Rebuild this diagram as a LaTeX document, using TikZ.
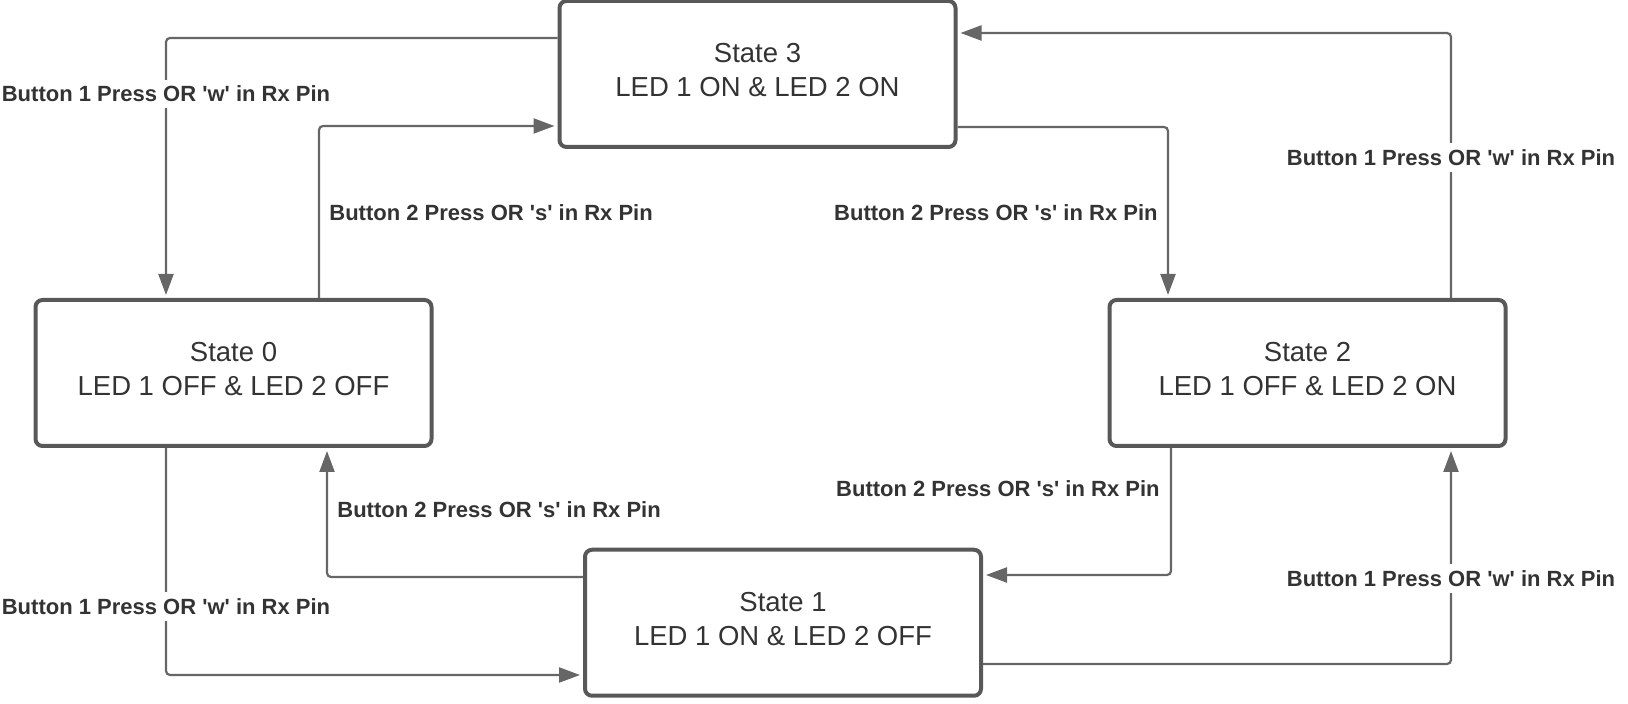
\documentclass[tikz,border=0pt]{standalone}
\usepackage{fontspec}
\setmainfont{Liberation Sans}
\usetikzlibrary{arrows.meta}
\definecolor{boxcol}{RGB}{88,88,88}
\definecolor{linecol}{RGB}{102,102,102}
\definecolor{textcol}{RGB}{51,51,51}
\tikzset{
  statebox/.style={draw=boxcol, line width=2pt, rounded corners=3.5pt, fill=white,
    minimum width=198pt, minimum height=73pt, inner sep=0pt},
  statetext/.style={align=center, text=textcol, inner sep=0pt,
    font=\fontsize{13.75pt}{17pt}\selectfont},
  conn/.style={draw=linecol, line width=1.1pt, rounded corners=2pt,
    -{Triangle[length=10.5pt,width=7.5pt]}, shorten >=1.5pt},
  trans/.style={text=textcol, inner sep=0pt, font=\fontsize{11pt}{12pt}\selectfont\bfseries},
  transw/.style={trans, fill=white, inner xsep=1pt, inner ysep=3pt}
}
\newcommand{\qs}{\textquotesingle}
\begin{document}
\begin{tikzpicture}[x=0.5pt,y=-0.5pt]
\useasboundingbox (0,0) rectangle (1628,704);
% states
\node[statebox] (s3) at (757.5,74) {};
\node[statebox] (s0) at (233.5,373) {};
\node[statebox] (s2) at (1307.5,373) {};
\node[statebox] (s1) at (783,622.75) {};
\node[statetext] (t3) at ([yshift=1.75pt]s3.center) {State 3\\LED 1 ON \& LED 2 ON};
\node[statetext] (t0) at ([yshift=1.75pt]s0.center) {State 0\\LED 1 OFF \& LED 2 OFF};
\node[statetext] (t2) at ([yshift=1.75pt]s2.center) {State 2\\LED 1 OFF \& LED 2 ON};
\node[statetext] (t1) at ([yshift=1.75pt]s1.center) {State 1\\LED 1 ON \& LED 2 OFF};
% connectors
\draw[conn] (s3.west |- 0,38) -| (166,0 |- s0.north);
\draw[conn] (s0.north -| 319,0) |- (s3.west |- 0,126);
\draw[conn] (s3.east |- 0,127) -| (1168,0 |- s2.north);
\draw[conn] (s2.north -| 1451,0) |- (s3.east |- 0,33);
\draw[conn] (s0.south -| 166,0) |- (s1.west |- 0,675);
\draw[conn] (s1.west |- 0,577) -| (327,0 |- s0.south);
\draw[conn] (s2.south -| 1171,0) |- (s1.east |- 0,575);
\draw[conn] (s1.east |- 0,664) -| (1451,0 |- s2.south);
% labels
\node[transw] (l1) at (166,94) {Button 1 Press OR \qs w\qs{} in Rx Pin};
\node[trans, anchor=west] (l2) at (329,213) {Button 2 Press OR \qs s\qs{} in Rx Pin};
\node[trans, anchor=east] (l3) at (1158,213) {Button 2 Press OR \qs s\qs{} in Rx Pin};
\node[transw] (l4) at (1451,157.5) {Button 1 Press OR \qs w\qs{} in Rx Pin};
\node[trans, anchor=west] (l5) at (337,509.5) {Button 2 Press OR \qs s\qs{} in Rx Pin};
\node[transw] (l6) at (166,606.5) {Button 1 Press OR \qs w\qs{} in Rx Pin};
\node[trans, anchor=east] (l7) at (1160,488.5) {Button 2 Press OR \qs s\qs{} in Rx Pin};
\node[transw] (l8) at (1451,578.5) {Button 1 Press OR \qs w\qs{} in Rx Pin};
\end{tikzpicture}
\end{document}
